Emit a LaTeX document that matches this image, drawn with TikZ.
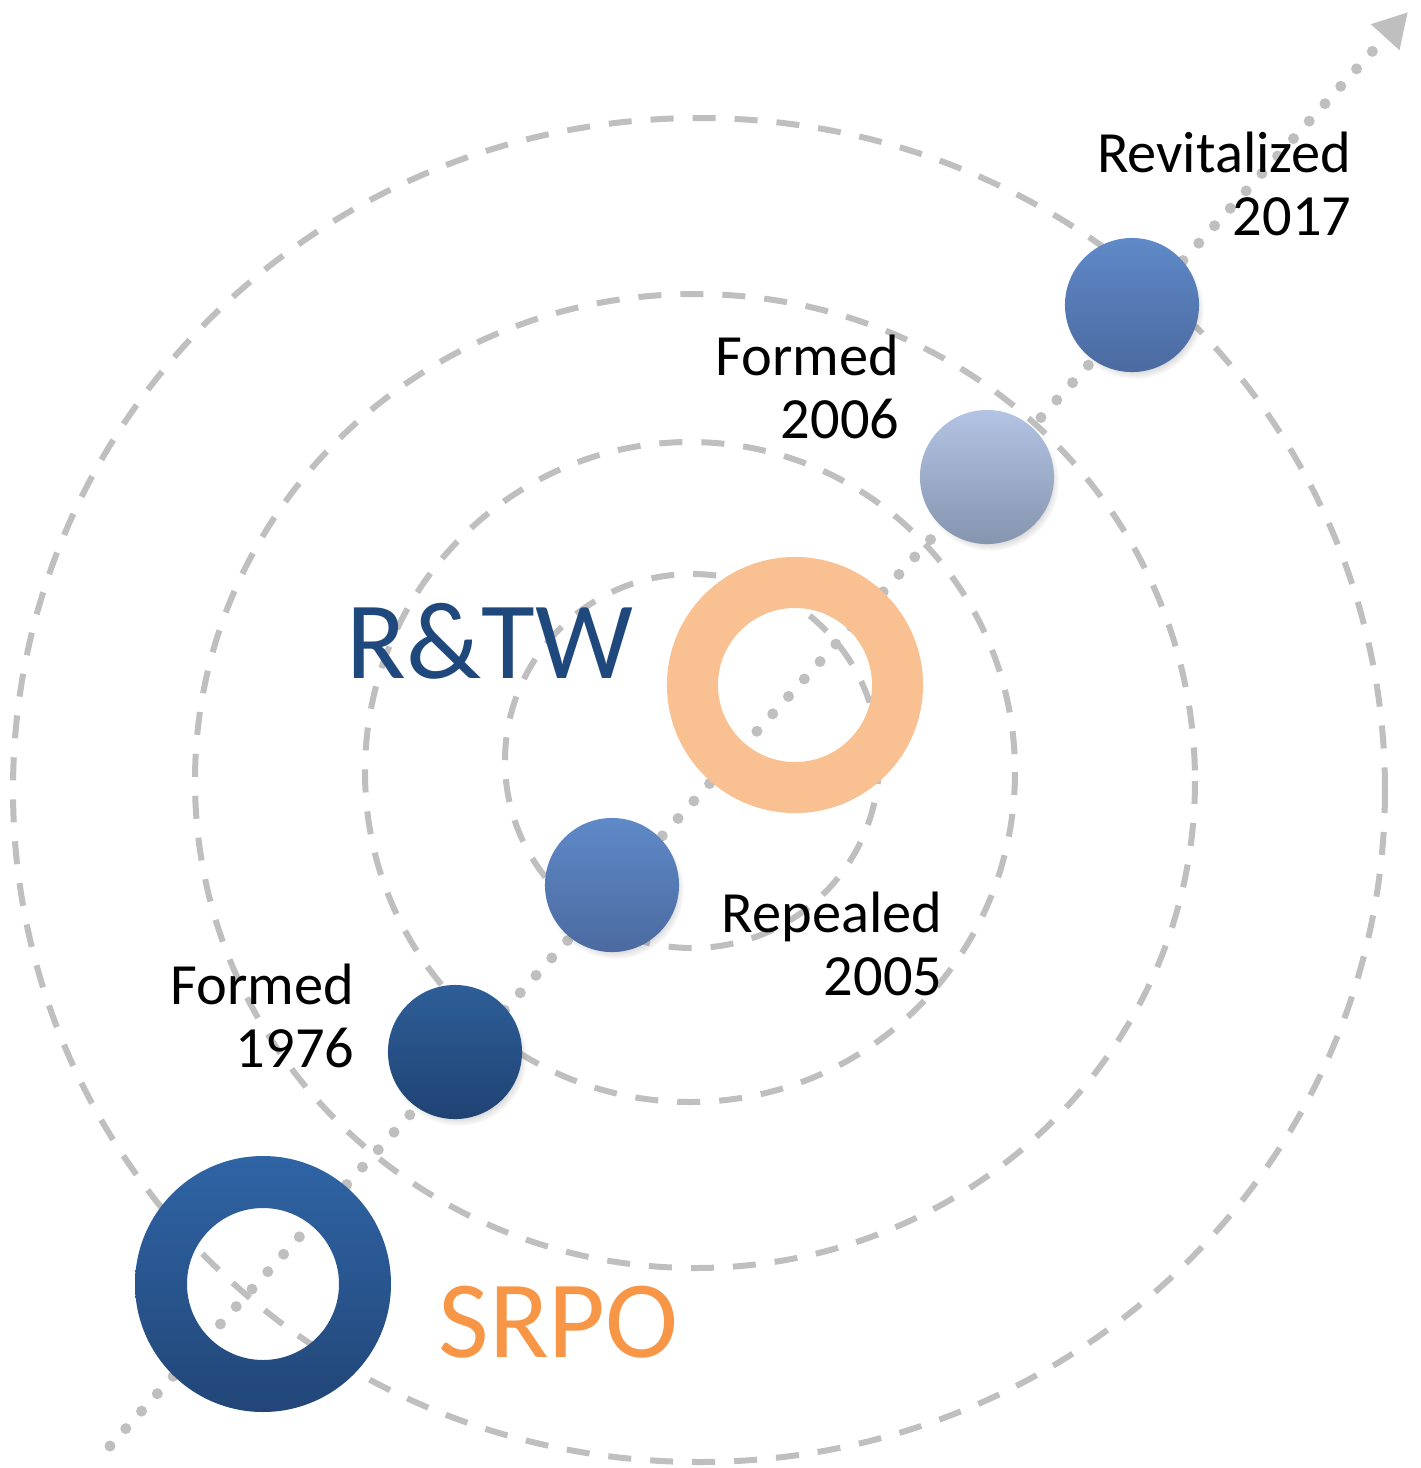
\documentclass[tikz,border=0pt]{standalone}
\usepackage{fontspec}
\setmainfont{Carlito}
\usepackage{tikz}
\usetikzlibrary{arrows.meta}
\usetikzlibrary{shadows}

\definecolor{orbitgray}{HTML}{BFBFBF}
\definecolor{navy}{HTML}{1F497D}
\definecolor{srpoorange}{HTML}{F79646}
\definecolor{peach}{HTML}{F9C191}

\begin{document}
\begin{tikzpicture}[x=0.01cm,y=-0.01cm,
  orbit/.style={draw=orbitgray,line width=0.06cm,dash pattern=on 0.23cm off 0.19cm},
  trail/.style={draw=orbitgray,line width=0.11cm,line cap=round,dash pattern=on 0pt off 0.235cm,-{Triangle[length=0.34cm,width=0.36cm]}},
  ball/.style={circle,minimum size=1.34cm,inner sep=0pt,circular drop shadow={shadow scale=1.03,shadow xshift=0.03cm,shadow yshift=-0.05cm,opacity=0.35}},
  yeartext/.style={align=right,anchor=base east,inner sep=0pt,font=\fontsize{16.6}{17.9}\selectfont},
  bigtext/.style={anchor=base west,inner sep=0pt,font=\fontsize{31.3}{31}\selectfont}]
\useasboundingbox (0,0) rectangle (1421,1468);
\draw[orbit] (699,790) ellipse [x radius=686,y radius=672];
\draw[orbit] (695,781) ellipse [x radius=500,y radius=487];
\draw[orbit] (690,772) ellipse [x radius=325,y radius=330];
\draw[orbit] (692,761) ellipse [x radius=187,y radius=187];

\coordinate (start) at (110,1446);
\coordinate (tip) at (1408,12);
\draw[trail] (start) -- (tip);

\coordinate (srpo) at (263,1284);
\shade[even odd rule,top color={rgb,255:red,47;green,100;blue,165},bottom color={rgb,255:red,34;green,70;blue,119}] (srpo) circle [radius=128] (srpo) circle [radius=76];
\node[circle,draw=peach,line width=0.51cm,minimum size=2.05cm,inner sep=0pt] (rtw) at (795,685) {};

\node[ball,top color={rgb,255:red,46;green,94;blue,152},bottom color={rgb,255:red,31;green,67;blue,115}] (b1976) at (455,1052) {};
\node[ball,top color={rgb,255:red,95;green,137;blue,200},bottom color={rgb,255:red,75;green,106;blue,160}] (b2005) at (612,885) {};
\node[ball,top color={rgb,255:red,179;green,195;blue,227},bottom color={rgb,255:red,133;green,149;blue,175}] (b2006) at (987,477) {};
\node[ball,top color={rgb,255:red,95;green,137;blue,200},bottom color={rgb,255:red,75;green,106;blue,160}] (b2017) at (1132,305) {};

\node[yeartext] (t2017) at (1352,235) {Revitalized\\2017};
\node[yeartext] (t2006) at (900,438) {Formed\\2006};
\node[yeartext] (t2005) at (943,995) {Repealed\\2005};
\node[yeartext] (t1976) at (355,1067) {Formed\\1976};
\node[bigtext,text=navy] (trtw) at (346,678) {R\&TW};
\node[bigtext,text=srpoorange] (tsrpo) at (438,1357) {SRPO};
\end{tikzpicture}
\end{document}
